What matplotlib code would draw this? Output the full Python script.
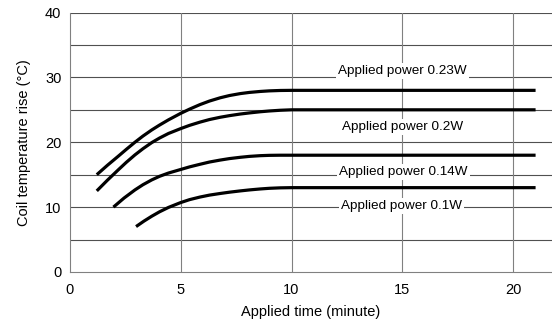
import matplotlib
matplotlib.use("Agg")
import matplotlib.pyplot as plt

plt.rcParams['font.family'] = ['Liberation Sans', 'DejaVu Sans']

# Data
x_023 = [1.22, 1.7, 2.19, 2.55, 2.94, 3.3, 3.70, 4.05, 4.45, 5.0, 5.4, 5.87, 6.3, 6.78, 7.2, 7.69, 8.1, 8.59, 9.0, 9.49, 10.0, 15.0, 21.0]
y_023 = [15.0, 16.45, 17.85, 18.9, 20.0, 20.95, 21.9, 22.65, 23.45, 24.45, 25.1, 25.8, 26.35, 26.85, 27.2, 27.5, 27.68, 27.83, 27.92, 27.98, 28.0, 28.0, 28.0]

x_020 = [1.22, 1.7, 2.19, 2.55, 2.94, 3.3, 3.70, 4.05, 4.45, 5.0, 5.4, 5.87, 6.3, 6.78, 7.2, 7.69, 8.1, 8.59, 9.0, 9.49, 10.0, 15.0, 21.0]
y_020 = [12.5, 14.15, 15.75, 16.9, 18.05, 19.0, 19.95, 20.65, 21.35, 22.1, 22.6, 23.1, 23.5, 23.85, 24.1, 24.35, 24.52, 24.7, 24.82, 24.93, 25.0, 25.0, 25.0]

x_014 = [1.97, 2.45, 2.94, 3.3, 3.70, 4.05, 4.45, 5.0, 5.4, 5.87, 6.3, 6.78, 7.2, 7.69, 8.1, 8.59, 9.0, 9.49, 10.0, 15.0, 21.0]
y_014 = [10.0, 11.4, 12.65, 13.45, 14.2, 14.75, 15.25, 15.8, 16.2, 16.6, 16.95, 17.25, 17.48, 17.68, 17.82, 17.93, 17.98, 18.0, 18.0, 18.0, 18.0]

x_010 = [2.99, 3.35, 3.70, 4.05, 4.45, 5.0, 5.4, 5.87, 6.3, 6.78, 7.2, 7.69, 8.1, 8.59, 9.0, 9.49, 10.0, 15.0, 21.0]
y_010 = [7.0, 7.85, 8.6, 9.28, 9.95, 10.7, 11.15, 11.55, 11.85, 12.1, 12.3, 12.5, 12.65, 12.8, 12.9, 12.97, 13.0, 13.0, 13.0]

labels = ["Applied power 0.23W", "Applied power 0.2W",
          "Applied power 0.14W", "Applied power 0.1W"]
label_x = [15.0, 15.0, 15.05, 14.95]
label_y = [31.0, 22.4, 15.45, 10.2]

x_ticks = [0, 5, 10, 15, 20]
y_ticks = [0, 10, 20, 30, 40]

fig = plt.figure(figsize=(5.52, 3.29), dpi=100)
ax = fig.add_axes([0.1263, 0.1733, 0.8737, 0.7887])

ax.set_xlim(0, 21.74)
ax.set_ylim(0, 40)

# grid
for yv in range(5, 41, 5):
    ax.axhline(yv, color='#505050', lw=0.8, zorder=1)
for xv in [5, 10, 15, 20]:
    ax.axvline(xv, color='#808080', lw=0.8, zorder=1)

for xs, ys in [(x_023, y_023), (x_020, y_020), (x_014, y_014), (x_010, y_010)]:
    ax.plot(xs, ys, color='black', lw=2.3, solid_capstyle='butt',
            solid_joinstyle='round', zorder=3)

for t, lx, ly in zip(labels, label_x, label_y):
    ax.text(lx, ly, t, ha='center', va='center', fontsize=9.7, color='black',
            bbox=dict(facecolor='white', edgecolor='none', pad=1.5), zorder=2)

for s in ['top', 'right']:
    ax.spines[s].set_visible(False)
ax.spines['left'].set_color('#808080')
ax.spines['bottom'].set_color('#808080')
ax.spines['left'].set_linewidth(0.8)
ax.spines['bottom'].set_linewidth(0.8)

ax.set_xticks(x_ticks)
ax.set_yticks(y_ticks)
ax.tick_params(length=0, labelsize=10.5, pad=8, colors='black')
ax.tick_params(axis='y', pad=6)

ax.set_xlabel("Applied time (minute)", fontsize=10.5, labelpad=6)
ax.set_ylabel("Coil temperature rise (°C)", fontsize=10.5, labelpad=10)

fig.savefig("out.png", dpi=100)
